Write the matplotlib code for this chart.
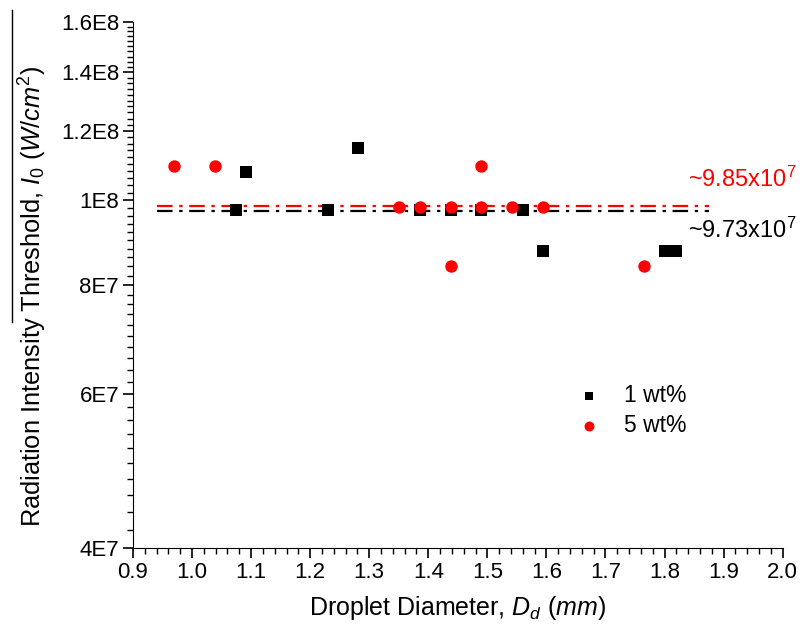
import matplotlib
matplotlib.use("Agg")
import matplotlib.pyplot as plt
from matplotlib.lines import Line2D
from matplotlib.ticker import FixedLocator, NullFormatter

# ---------------------------------------------------------------- data
d_1wt = [1.074, 1.091, 1.23, 1.281, 1.386, 1.438, 1.49, 1.56, 1.594, 1.80, 1.82]
i_1wt = [9.75e7, 1.077e8, 9.75e7, 1.148e8, 9.75e7, 9.75e7, 9.75e7, 9.75e7, 8.75e7, 8.75e7, 8.75e7]

d_5wt = [0.969, 1.039, 1.35, 1.386, 1.438, 1.438, 1.49, 1.49, 1.541, 1.594, 1.766]
i_5wt = [1.094e8, 1.094e8, 9.83e7, 9.83e7, 9.83e7, 8.41e7, 9.83e7, 1.094e8, 9.83e7, 9.83e7, 8.41e7]

avg_1wt = 9.73e7
avg_5wt = 9.85e7
avg_span = (0.94, 1.875)

y_ticks = [4e7, 6e7, 8e7, 1e8, 1.2e8, 1.4e8, 1.6e8]
y_labels = ["4E7", "6E7", "8E7", "1E8", "1.2E8", "1.4E8", "1.6E8"]
x_ticks = [0.9 + 0.1 * k for k in range(12)]

# ---------------------------------------------------------------- style
plt.rcParams["font.family"] = ["Liberation Sans", "DejaVu Sans"]
plt.rcParams["mathtext.fontset"] = "custom"
plt.rcParams["mathtext.rm"] = "Liberation Sans"
plt.rcParams["mathtext.it"] = "Liberation Sans:italic"

fig = plt.figure(figsize=(8.06, 6.31), dpi=100)
ax = fig.add_axes([0.165, 0.1315, 0.806, 0.834])

ax.plot(avg_span, [avg_1wt, avg_1wt], color="black", lw=1.6, ls=(0, (7, 3, 1.5, 3)))
ax.plot(avg_span, [avg_5wt, avg_5wt], color="red", lw=1.6, ls=(0, (7, 3, 1.5, 3)))

ax.scatter(d_1wt, i_1wt, marker="s", s=64, color="black", lw=0, label="1 wt%", zorder=3)
ax.scatter(d_5wt, i_5wt, marker="o", s=80, color="red", lw=0, label="5 wt%", zorder=4)

ax.set_yscale("log")
ax.set_ylim(4e7, 1.6e8)
ax.set_xlim(0.9, 2.0)

ax.yaxis.set_major_locator(FixedLocator(y_ticks))
ax.set_yticklabels(y_labels)
ax.yaxis.set_minor_locator(FixedLocator([4e7 + 2e6 * k for k in range(61)]))
ax.yaxis.set_minor_formatter(NullFormatter())
ax.set_xticks(x_ticks)
ax.set_xticklabels([f"{v:.1f}" for v in x_ticks])
ax.set_xticks([0.9 + 0.02 * k for k in range(56)], minor=True)

for s in ("top", "right"):
    ax.spines[s].set_visible(False)
ax.tick_params(which="major", direction="out", length=7, width=1.2, labelsize=16, pad=3)
ax.tick_params(which="minor", direction="out", length=4, width=1.0)

ax.set_xlabel(r"Droplet Diameter, $D_d$ $(mm)$", fontsize=18, labelpad=8)
ax.set_ylabel(r"Radiation Intensity Threshold, $I_0$ $(W/cm^2)$", fontsize=18.3)
ax.yaxis.set_label_coords(-0.13, 0.478)

ax.text(1.84, 1.036e8, r"~9.85x10$^7$", color="red", fontsize=17, ha="left", va="baseline")
ax.text(1.84, 9.06e7, r"~9.73x10$^7$", color="black", fontsize=17, ha="left", va="baseline")

ax.legend(loc="upper left", bbox_to_anchor=(0.674, 0.333), frameon=False, fontsize=16.5,
          borderpad=0, handlelength=0.6, handletextpad=1.2, labelspacing=0.3, markerscale=0.8)

# overline artefact left of the y label
fig.add_artist(Line2D([12 / 806, 12 / 806], [1 - 10 / 631, 1 - 322 / 631],
                      transform=fig.transFigure, color="black", lw=1))

fig.savefig("out.png", dpi=100)
